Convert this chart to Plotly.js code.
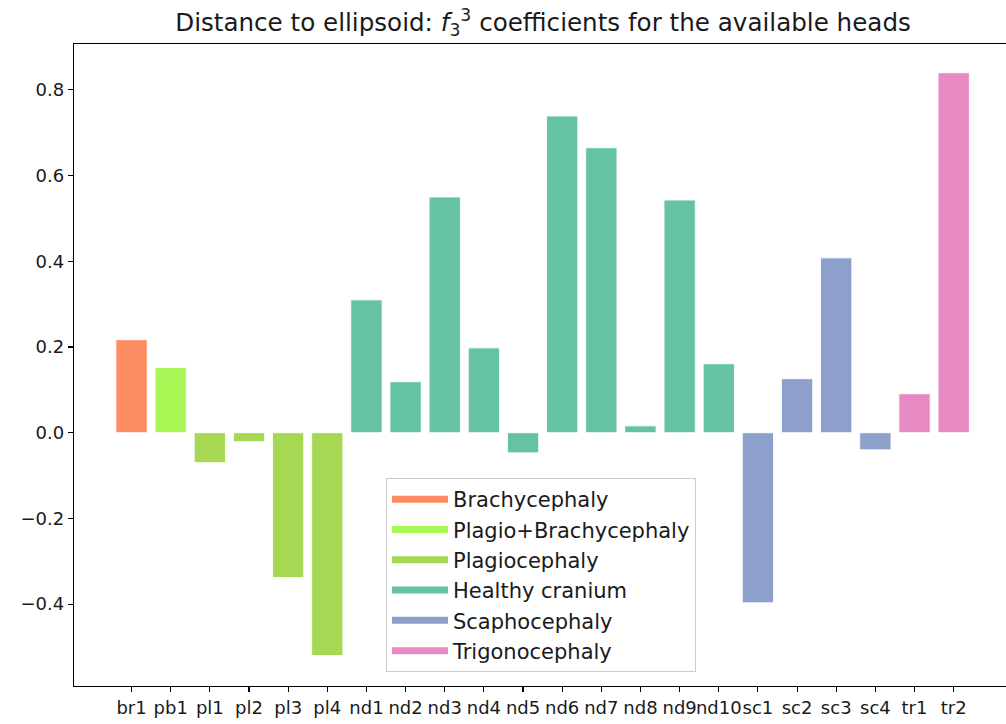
<!DOCTYPE html>
<html>
<head>
<meta charset="utf-8">
<script src="https://cdn.plot.ly/plotly-3.0.1.min.js"></script>
<style>
  html, body { margin: 0; padding: 0; overflow: hidden; background: #fff; }
  #chart { width: 1012px; height: 724px; }
</style>
</head>
<body>
<div id="chart"></div>
<script>
// Heads, grouped by diagnosis, with their f_3^3 distance coefficient
const groupNames = ["Brachycephaly", "Plagio+Brachycephaly", "Plagiocephaly",
                    "Healthy cranium", "Scaphocephaly", "Trigonocephaly"];
const groupColors = ["#fc8d62", "#a7f755", "#a6d854", "#66c2a5", "#8da0cb", "#e78ac3"];

const headLabels = ["br1", "pb1", "pl1", "pl2", "pl3", "pl4",
                    "nd1", "nd2", "nd3", "nd4", "nd5", "nd6", "nd7", "nd8", "nd9", "nd10",
                    "sc1", "sc2", "sc3", "sc4", "tr1", "tr2"];
const headGroup = [0, 1, 2, 2, 2, 2,
                   3, 3, 3, 3, 3, 3, 3, 3, 3, 3,
                   4, 4, 4, 4, 5, 5];
const coefficients = [0.217, 0.152, -0.070, -0.021, -0.338, -0.520,
                      0.310, 0.119, 0.550, 0.198, -0.047, 0.739, 0.665, 0.016, 0.543, 0.161,
                      -0.397, 0.126, 0.408, -0.040, 0.091, 0.840];

const FONT = "DejaVu Sans, Verdana, sans-serif";
const INK = "#1a1a1a";

const traces = [];
// one bar trace per diagnosis group, placed at the head's index
groupNames.forEach((name, g) => {
  const xs = [], ys = [];
  headLabels.forEach((lab, i) => {
    if (headGroup[i] === g) { xs.push(i); ys.push(coefficients[i]); }
  });
  traces.push({
    type: "bar",
    x: xs, y: ys,
    width: 0.8,
    marker: { color: groupColors[g], line: { color: "rgba(255,255,255,0.9)", width: 1 } },
    name: name,
    showlegend: false,
    hoverinfo: "x+y"
  });
});
// legend handles drawn as thick lines
groupNames.forEach((name, g) => {
  traces.push({
    type: "scatter", mode: "lines",
    x: [null], y: [null],
    line: { color: groupColors[g], width: 7 },
    name: name,
    legendgroup: "g" + g,
    showlegend: true,
    hoverinfo: "skip"
  });
});

const layout = {
  width: 1012, height: 724,
  margin: { l: 74, r: 0, t: 44, b: 38, pad: 0 },
  paper_bgcolor: "#ffffff",
  plot_bgcolor: "#ffffff",
  font: { family: FONT, color: INK, size: 18 },
  barmode: "overlay",
  title: {
    text: "Distance to ellipsoid: <i>f</i><sub>3</sub><sup>3</sup> coefficients for the available heads",
    font: { family: FONT, size: 24.6, color: INK },
    x: 0.5, xref: "paper", xanchor: "center",
    y: 1, yref: "paper", yanchor: "bottom",
    pad: { b: 13 }
  },
  xaxis: {
    range: [-1.47, 22.49],
    tickmode: "array",
    tickvals: headLabels.map((_, i) => i),
    ticktext: headLabels,
    showgrid: false, zeroline: false,
    showline: true, linecolor: "#000", linewidth: 1.2, mirror: true,
    ticks: "outside", ticklen: 5, tickwidth: 1.1, tickcolor: "#000",
    tickfont: { family: FONT, size: 18, color: INK },
    tickangle: 0,
    fixedrange: true
  },
  yaxis: {
    range: [-0.591, 0.907],
    tickmode: "array",
    tickvals: [-0.4, -0.2, 0, 0.2, 0.4, 0.6, 0.8],
    ticktext: ["\u22120.4", "\u22120.2", "0.0", "0.2", "0.4", "0.6", "0.8"],
    showgrid: false, zeroline: false,
    showline: true, linecolor: "#000", linewidth: 1.2, mirror: true,
    ticks: "outside", ticklen: 5, tickwidth: 1.1, tickcolor: "#000",
    tickfont: { family: FONT, size: 18, color: INK },
    fixedrange: true
  },
  showlegend: true,
  legend: {
    x: 0.3326, y: 0.324, xanchor: "left", yanchor: "top",
    xref: "paper", yref: "paper",
    bgcolor: "rgba(255,255,255,0.85)",
    bordercolor: "#cccccc", borderwidth: 1,
    font: { family: FONT, size: 21, color: INK },
    tracegroupgap: 7,
    itemwidth: 56,
    traceorder: "normal"
  },
  hovermode: "closest"
};

Plotly.newPlot("chart", traces, layout, { staticPlot: true, displayModeBar: false });
</script>
</body>
</html>
